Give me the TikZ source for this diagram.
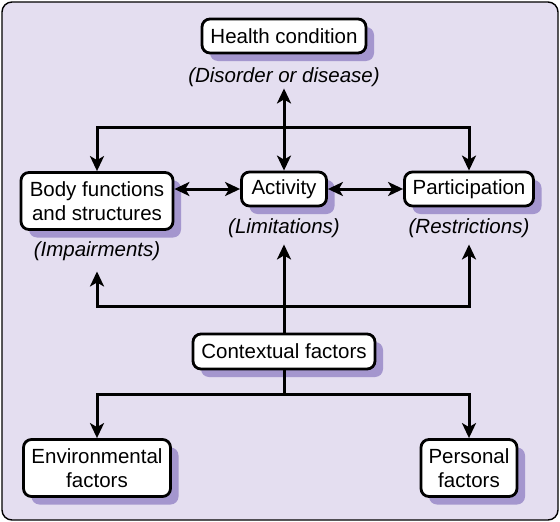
\documentclass[tikz,border=0pt]{standalone}
\usepackage{fontspec}
\setmainfont{Liberation Sans}
\usetikzlibrary{arrows.meta,shadows}
\definecolor{bgcol}{RGB}{228,222,240}
\definecolor{shcol}{RGB}{164,150,206}
\begin{document}
\begin{tikzpicture}[x=1pt,y=-1pt,
  txt/.style={font=\fontsize{20.5}{23.5}\selectfont},
  box/.style={txt,draw=black,line width=2.8pt,rounded corners=8pt,fill=white,
    align=center,inner sep=0pt,
    drop shadow={shadow xshift=8pt,shadow yshift=-8pt,fill=shcol,opacity=1}},
  lbl/.style={txt,font=\fontsize{20.5}{23.5}\selectfont\itshape,inner sep=0pt,anchor=base},
  tip/.style={Stealth[length=15pt,width=14pt,inset=4pt]},
  conn/.style={line width=3pt,-{Stealth[length=15pt,width=14pt,inset=4pt]}},
  dconn/.style={line width=3pt,{Stealth[length=15pt,width=14pt,inset=4pt]}-{Stealth[length=15pt,width=14pt,inset=4pt]}},
  plain/.style={line width=3pt}]
\useasboundingbox (0,0) rectangle (560,522);
\draw[fill=bgcol,draw=black,line width=1.4pt,rounded corners=10pt] (2,2) rectangle (558,520);

\node[box,minimum width=164pt,minimum height=34pt] (health) at (284,36) {Health condition};
\node[lbl] (disorder) at (284,82) {(Disorder or disease)};

\node[box,minimum width=152pt,minimum height=57pt] (body) at (97,201) {Body functions\\and structures};
\node[box,minimum width=85pt,minimum height=34pt] (activity) at (284,189) {Activity};
\node[box,minimum width=129pt,minimum height=34pt] (particip) at (469,189) {Participation};

\node[lbl] (impair) at (97,256) {(Impairments)};
\node[lbl] (limit) at (284,233) {(Limitations)};
\node[lbl] (restr) at (469,233) {(Restrictions)};

\node[box,minimum width=182pt,minimum height=35pt] (context) at (284,351.5) {Contextual factors};

\node[box,minimum width=147pt,minimum height=57pt] (env) at (97,468) {Environmental\\factors};
\node[box,minimum width=96pt,minimum height=57pt] (personal) at (469,468) {Personal\\factors};

\coordinate (jt) at (284,127);
\coordinate (jb) at (284,306);
\coordinate (jc) at (284,394);

% top
\draw[dconn,shorten <=2pt] (disorder.south) -- (activity.north);
\draw[conn] (jt) -| (body.north);
\draw[conn] (jt) -| (particip.north);

% middle row
\draw[dconn] (activity.west -| body.east) -- (activity.west);
\draw[dconn] (activity.east) -- (particip.west);

% bottom up
\draw[conn,shorten >=7pt] (context.north) -- (limit.south);
\draw[conn,shorten >=11pt] (jb) -| (impair.south);
\draw[conn,shorten >=7pt] (jb) -| (restr.south);

% context down
\draw[plain] (context.south) -- (jc);
\draw[conn] (jc) -| (env.north);
\draw[conn] (jc) -| (personal.north);
\end{tikzpicture}
\end{document}
